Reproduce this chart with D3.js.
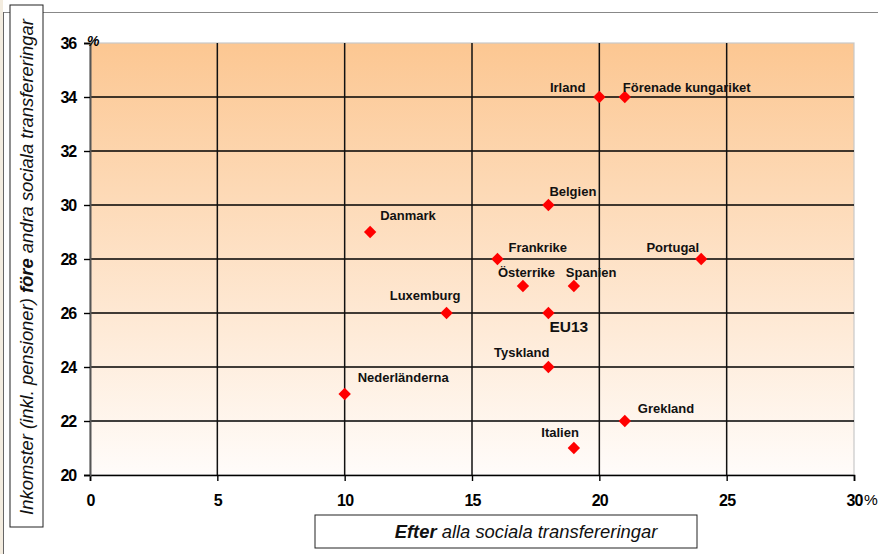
<!DOCTYPE html>
<html>
<head>
<meta charset="utf-8">
<script src="https://cdn.jsdelivr.net/npm/d3@7"></script>
<style>
  html, body { margin: 0; padding: 0; background: #fff; }
  svg { display: block; font-family: "Liberation Sans", Arial, sans-serif; }
</style>
</head>
<body>
<svg id="chart" width="878" height="554"></svg>
<script>
// Poverty risk by country: after all social transfers (x) vs before (y), %
const countries = ["Irland", "Förenade kungariket", "Belgien", "Danmark", "Frankrike", "Portugal",
  "Österrike", "Spanien", "Luxemburg", "EU13", "Tyskland", "Nederländerna", "Grekland", "Italien"];
const afterTransfers  = [20, 21, 18, 11, 16, 24, 17, 19, 14, 18, 18, 10, 21, 19];
const beforeTransfers = [34, 34, 30, 29, 28, 28, 27, 27, 26, 26, 24, 23, 22, 21];
// label placement relative to each point: [dx, dy, anchor]
const labelPos = [
  [-14, -5, "end"], [-2, -5, "start"], [1, -9, "start"], [10, -12, "start"],
  [11, -7, "start"], [-2, -7, "end"], [-25, -9, "start"], [-8, -9, "start"],
  [14, -13, "end"], [1, 19, "start"], [1, -10, "end"], [13, -12, "start"],
  [13, -8, "start"], [5, -11, "end"]
];
const xTicks = [0, 5, 10, 15, 20, 25, 30];
const yTicks = [20, 22, 24, 26, 28, 30, 32, 34, 36];

const svg = d3.select("#chart");
const W = 878, H = 554;
const plot = { left: 90, right: 854, top: 43, bottom: 475 };

const x = d3.scaleLinear().domain([0, 30]).range([plot.left, plot.right]);
const y = d3.scaleLinear().domain([20, 36]).range([plot.bottom, plot.top]);

// page framing
svg.append("rect").attr("x", 0).attr("y", 0).attr("width", 3).attr("height", H).attr("fill", "#f3ecdf");
svg.append("line").attr("x1", 3).attr("x2", W).attr("y1", 12.5).attr("y2", 12.5)
  .attr("stroke", "#888").attr("stroke-width", 1);
svg.append("line").attr("x1", 3.5).attr("x2", 3.5).attr("y1", 12).attr("y2", H)
  .attr("stroke", "#666").attr("stroke-width", 1);

// background gradient
const defs = svg.append("defs");
const grad = defs.append("linearGradient").attr("id", "bg").attr("x1", 0).attr("x2", 0).attr("y1", 0).attr("y2", 1);
grad.append("stop").attr("offset", "0%").attr("stop-color", "#fcc792");
grad.append("stop").attr("offset", "100%").attr("stop-color", "#fffcfa");

svg.append("rect")
  .attr("x", plot.left).attr("y", plot.top)
  .attr("width", plot.right - plot.left).attr("height", plot.bottom - plot.top)
  .attr("fill", "url(#bg)")
  .attr("stroke", "#c8c8c8").attr("stroke-width", 1.2);

// grid lines
const g = svg.append("g");
g.selectAll("line.hg").data(yTicks.filter(d => d > 20 && d < 36)).join("line")
  .attr("x1", plot.left).attr("x2", plot.right)
  .attr("y1", d => y(d)).attr("y2", d => y(d))
  .attr("stroke", "#000").attr("stroke-width", 1.5);
g.selectAll("line.vg").data(xTicks.filter(d => d > 0 && d < 30)).join("line")
  .attr("y1", plot.top).attr("y2", plot.bottom)
  .attr("x1", d => x(d)).attr("x2", d => x(d))
  .attr("stroke", "#111").attr("stroke-width", 1.5);

// axes
const xAxis = svg.append("g").attr("transform", `translate(0,${plot.bottom})`)
  .call(d3.axisBottom(x).tickValues(xTicks).tickSize(6).tickFormat(d => d));
xAxis.select(".domain").attr("stroke", "#000").attr("stroke-width", 1.6);
xAxis.selectAll(".tick line").attr("stroke", "#000").attr("stroke-width", 1.4);
xAxis.selectAll(".tick text").attr("dy", 0).attr("y", 31)
  .attr("font-size", 16).attr("font-weight", "bold").attr("fill", "#000")
  .attr("font-family", "Liberation Sans, Arial, sans-serif").attr("letter-spacing", -0.8);

const yAxis = svg.append("g").attr("transform", `translate(${plot.left},0)`)
  .call(d3.axisLeft(y).tickValues(yTicks).tickSize(6).tickFormat(d => d));
yAxis.select(".domain").attr("stroke", "#555").attr("stroke-width", 2);
yAxis.selectAll(".tick line").attr("stroke", "#000").attr("stroke-width", 1.4);
yAxis.selectAll(".tick text").attr("x", -14).attr("dy", "0.36em")
  .attr("font-size", 16).attr("font-weight", "bold").attr("fill", "#000")
  .attr("font-family", "Liberation Sans, Arial, sans-serif").attr("letter-spacing", -1.2);

// unit marks
svg.append("text").attr("x", 87).attr("y", 46).text("%")
  .attr("font-size", 14).attr("font-weight", "bold").attr("font-style", "italic");
svg.append("text").attr("x", 864).attr("y", 505).text("%")
  .attr("font-size", 15.5).attr("fill", "#000");

// points
const data = countries.map((c, i) => ({ name: c, x: afterTransfers[i], y: beforeTransfers[i], pos: labelPos[i] }));
const diamond = "M0,-6.2L6.2,0L0,6.2L-6.2,0Z";
svg.append("g").selectAll("path").data(data).join("path")
  .attr("d", diamond)
  .attr("transform", d => `translate(${x(d.x)},${y(d.y)})`)
  .attr("fill", "#ff0000");

svg.append("g").selectAll("text").data(data).join("text")
  .attr("x", d => x(d.x) + d.pos[0])
  .attr("y", d => y(d.y) + d.pos[1])
  .attr("text-anchor", d => d.pos[2])
  .attr("font-size", d => d.name === "EU13" ? 15.5 : 13)
  .attr("font-weight", "bold").attr("fill", "#111")
  .text(d => d.name);

// y-axis title box
svg.append("rect").attr("x", 10).attr("y", 5).attr("width", 33).attr("height", 522)
  .attr("fill", "#fff").attr("stroke", "#222").attr("stroke-width", 1);
const yt = svg.append("text")
  .attr("transform", "translate(33,267) rotate(-90)")
  .attr("text-anchor", "middle").attr("font-size", 18.4).attr("font-style", "italic").attr("fill", "#111");
yt.append("tspan").text("Inkomster (inkl. pensioner) ");
yt.append("tspan").attr("font-weight", "bold").text("före");
yt.append("tspan").text(" andra sociala transfereringar");

// x-axis title box
svg.append("rect").attr("x", 315).attr("y", 515).attr("width", 382).attr("height", 33)
  .attr("fill", "#fff").attr("stroke", "#222").attr("stroke-width", 1);
const xt = svg.append("text").attr("x", 526).attr("y", 538)
  .attr("text-anchor", "middle").attr("font-size", 18.4).attr("font-style", "italic").attr("fill", "#111");
xt.append("tspan").attr("font-weight", "bold").text("Efter");
xt.append("tspan").text(" alla sociala transfereringar");
</script>
</body>
</html>
